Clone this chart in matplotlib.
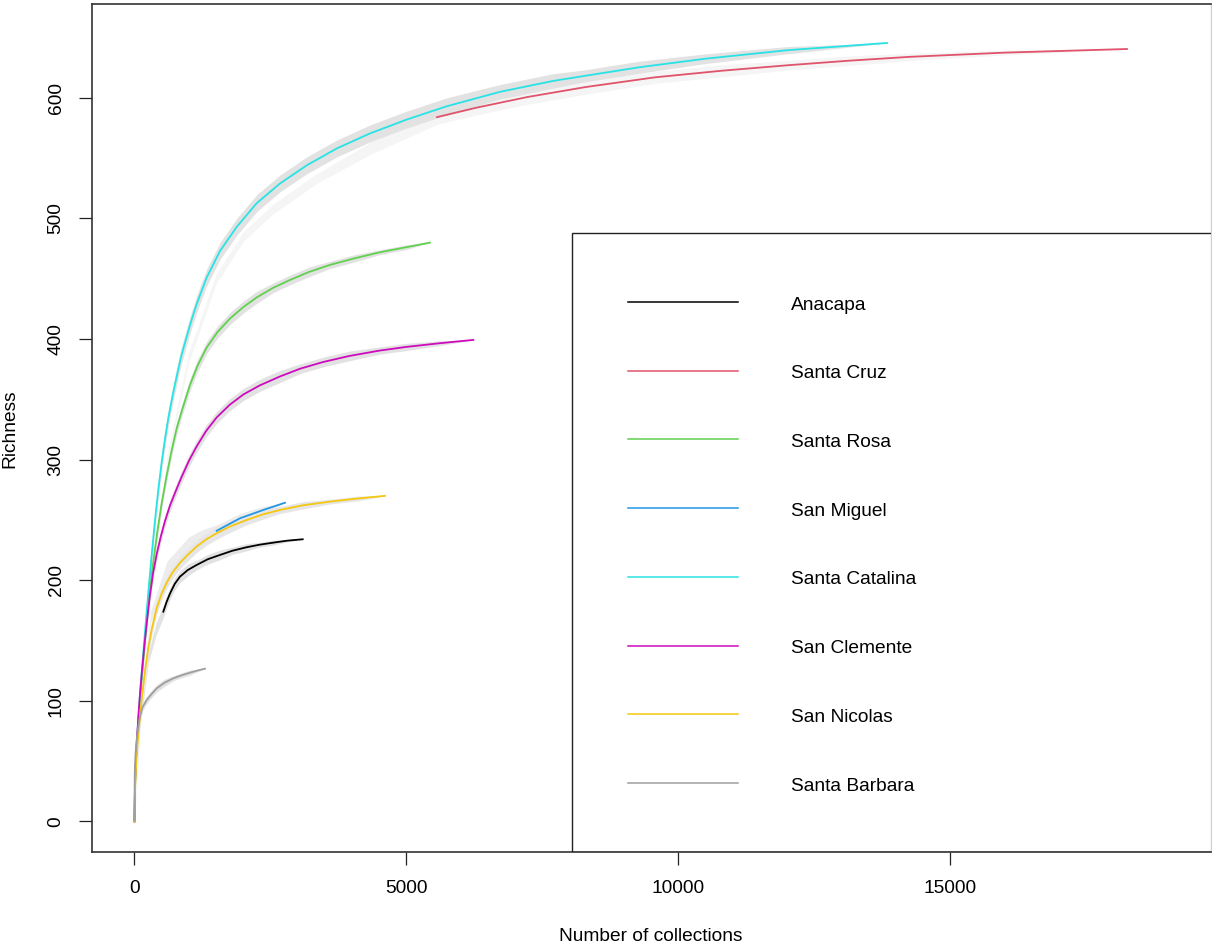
import matplotlib
matplotlib.use("Agg")
import matplotlib.pyplot as plt
from matplotlib.patches import Rectangle
import numpy as np

plt.rcParams['font.family'] = ['Liberation Sans', 'DejaVu Sans']

islands = ["Anacapa", "Santa Cruz", "Santa Rosa", "San Miguel",
           "Santa Catalina", "San Clemente", "San Nicolas", "Santa Barbara"]
colors = ["#000000", "#DF536B", "#61D04F", "#2297E6",
          "#28E2E5", "#CD0BBC", "#F5C710", "#9E9E9E"]

# rarefaction curves: number of collections vs richness (mean) and envelope half-width
anacapa_x = [0, 100, 250, 400, 530, 590, 653, 740, 836, 980, 1143, 1350, 1572, 1800, 2062, 2300, 2551, 2800, 3092]
anacapa_y = [0, 80, 135, 160, 174, 182, 189, 197, 203, 208.5, 212.7, 217.5, 221, 224.5, 227.4, 229.5, 231.2, 232.8, 234]
anacapa_sd = [0, 3, 4, 5, 5, 5, 5, 5, 5, 5, 4, 4, 4, 3, 3, 2, 2, 1, 0]

cruz_x = [0, 100, 300, 600, 1000, 1500, 2000, 2551, 3349, 4329, 5561, 6300, 7224, 8300, 9566,
          10800, 12000, 13100, 14250, 16000, 18244]
cruz_y = [0, 95, 190, 300, 385, 450, 485, 508, 533, 558, 584, 592, 600.7, 609, 617,
          622.5, 627, 630.7, 634, 637.5, 640.5]
cruz_sd = [0, 2, 3, 4, 4, 4, 4, 4, 4, 5, 6, 6, 6, 6, 5, 5, 4, 4, 3, 2, 0]

rosa_x = [0, 10, 20, 40, 70, 100, 132, 180, 254, 330, 419, 500, 592, 680, 776, 880, 1020, 1160,
          1327, 1530, 1755, 2000, 2246, 2550, 2858, 3200, 3594, 4050, 4513, 5000, 5432]
rosa_y = [0, 28, 42, 60, 81, 100, 118, 143, 179, 210, 240, 264, 287, 307, 326, 342, 362, 378,
          393, 406, 417, 426.5, 434.5, 442.5, 449, 455.5, 461.5, 467, 472, 476.2, 480]
rosa_sd = [0, 1, 2, 3, 3, 4, 4, 4, 5, 5, 5, 5, 5, 5, 5, 5, 5, 5,
           5, 5, 5, 5, 5, 4, 4, 4, 3, 3, 2, 2, 0]

miguel_x = [0, 100, 300, 600, 1000, 1250, 1511, 1939, 2368, 2767]
miguel_y = [0, 90, 170, 210, 230, 236, 241, 251.4, 258.3, 264.3]
miguel_sd = [0, 4, 5, 6, 6, 6, 5, 4, 3, 0]

catalina_x = [0, 10, 20, 40, 70, 100, 132, 180, 224, 270, 320, 380, 440, 500, 560, 620, 700, 776,
              860, 960, 1050, 1143, 1327, 1572, 1879, 2246, 2675, 3165, 3717, 4329, 5004, 5739,
              6719, 7693, 8244, 9300, 10505, 12000, 13833]
catalina_y = [0, 30, 45, 63, 85, 104, 123, 150, 174, 198, 223, 251, 276, 298, 317, 334, 353, 369,
              386, 402, 416, 429, 451, 473, 493, 512.6, 529, 544, 558, 570.5, 582, 593,
              605, 614, 618, 625.5, 632.5, 639.5, 645.5]
catalina_sd = [0, 1, 2, 3, 3, 4, 4, 5, 5, 5, 6, 6, 6, 7, 7, 7, 7, 7,
               7, 7, 7, 7, 7, 7, 7, 7, 7, 7, 7, 7, 7, 7,
               6, 6, 5, 5, 4, 3, 0]

clemente_x = [0, 10, 20, 40, 70, 100, 132, 180, 224, 280, 346, 410, 482, 560, 653, 750, 860,
              1000, 1143, 1320, 1511, 1750, 2000, 2300, 2675, 3050, 3471, 3950, 4513, 5000, 5600, 6228]
clemente_y = [0, 30, 44, 64, 86, 105, 122, 145, 164, 186, 207, 222, 236, 249, 262, 273, 285,
              299, 311, 324, 335, 345.5, 354, 361.5, 369, 375.5, 381, 386, 390.5, 393.5, 396.5, 399.3]
clemente_sd = [0, 1, 2, 3, 3, 4, 4, 4, 5, 5, 5, 5, 5, 5, 5, 5, 5,
               5, 5, 5, 5, 5, 5, 5, 5, 4, 4, 4, 3, 3, 2, 0]

nicolas_x = [0, 10, 20, 40, 70, 101, 130, 162, 200, 254, 320, 408, 500, 592, 700, 836, 1000,
             1143, 1320, 1511, 1750, 2062, 2350, 2675, 3100, 3594, 4100, 4605]
nicolas_y = [0, 25, 38, 54, 72, 87, 100, 113, 127, 144, 160, 177, 189, 198, 206.5, 214.5, 222,
             228, 234, 239, 244.5, 250, 254.5, 258.3, 262.2, 265.2, 267.8, 270]
nicolas_sd = [0, 1, 2, 3, 3, 4, 4, 5, 5, 5, 5, 5, 5, 5, 5, 5, 5,
              5, 5, 5, 5, 4, 4, 3, 3, 2, 2, 0]

barbara_x = [0, 5, 20, 40, 70, 101, 150, 224, 300, 408, 550, 713, 870, 1020, 1160, 1296]
barbara_y = [1, 40, 57, 67.6, 79, 87, 95, 100.7, 105, 110.4, 115, 118.7, 121.3, 123.4, 125.2, 126.7]
barbara_sd = [0, 2, 2, 3, 3, 3, 3, 3, 3, 3, 3, 2, 2, 2, 1, 0]

series_x = [anacapa_x, cruz_x, rosa_x, miguel_x, catalina_x, clemente_x, nicolas_x, barbara_x]
series_y = [anacapa_y, cruz_y, rosa_y, miguel_y, catalina_y, clemente_y, nicolas_y, barbara_y]
series_sd = [anacapa_sd, cruz_sd, rosa_sd, miguel_sd, catalina_sd, clemente_sd, nicolas_sd, barbara_sd]
# first collection count where the coloured mean curve is visible
line_start = [530, 5561, 0, 1511, 0, 0, 0, 0]
env_colors = ["#e2e2e2", "#f5f5f5", "#e2e2e2", "#ececec", "#e2e2e2", "#e2e2e2", "#e6e6e6", "#e2e2e2"]

W, H = 1212, 947
fig = plt.figure(figsize=(W / 100, H / 100), dpi=100)
L, R, T, B = 91.5, 1211, 4.5, 852
ax = fig.add_axes([L / W, (H - B) / H, (R - L) / W, (B - T) / H])

for xs, ys, sd, c, ec, st in zip(series_x, series_y, series_sd, colors, env_colors, line_start):
    xs = np.array(xs, float); ys = np.array(ys, float); sd = np.array(sd, float)
    ax.fill_between(xs, ys - sd, ys + sd, color=ec, lw=0, zorder=1)
    m = xs >= st
    ax.plot(xs[m], ys[m], color=c, lw=1.3, zorder=2, solid_joinstyle="round")

ax.set_xlim(-790, 19789)
ax.set_ylim(-25.3, 677.4)
ax.set_xticks([0, 5000, 10000, 15000])
ax.set_xticklabels(["0", "5000", "10000", "15000"], fontsize=13.8)
ax.set_yticks([0, 100, 200, 300, 400, 500, 600])
ax.set_yticklabels(["0", "100", "200", "300", "400", "500", "600"], fontsize=13.8,
                   rotation=90, va="center")
ax.tick_params(direction="out", length=9.4, width=0.9, color="#222222")
ax.tick_params(axis="x", pad=11)
ax.tick_params(axis="y", pad=10)
for s in ["left", "top", "bottom"]:
    ax.spines[s].set_color("#333333")
    ax.spines[s].set_linewidth(1.2)
ax.spines["right"].set_color("#d0d0d0")
ax.spines["right"].set_linewidth(1.0)

# legend box (extends past the right edge)
lx = (572 - L) / (R - L)
ly = (B - 233) / (B - T)
ax.add_patch(Rectangle((lx, 0), 1.0, ly, transform=ax.transAxes, fill=False,
                       edgecolor="#222222", lw=1.0, clip_on=True, zorder=5))
rows_px = [302, 370.7, 439.4, 508.1, 576.9, 645.6, 714.3, 783]
x0 = (627.5 - L) / (R - L); x1 = (738 - L) / (R - L); xt = (791 - L) / (R - L)
for name, c, py in zip(islands, colors, rows_px):
    yf = (B - py) / (B - T)
    ax.plot([x0, x1], [yf, yf], color=c, lw=1.1, transform=ax.transAxes, zorder=6)
    ax.text(xt, (B - py - 7.5) / (B - T), name, transform=ax.transAxes,
            fontsize=13.8, va="baseline", ha="left", zorder=6)

fig.text(651 / W, 1 - 936 / H, "Number of collections", ha="center", va="center", fontsize=13.8)
fig.text(10 / W, 1 - 429 / H, "Richness", ha="center", va="center", rotation=90, fontsize=13.8)

fig.savefig("out.png", dpi=100)
